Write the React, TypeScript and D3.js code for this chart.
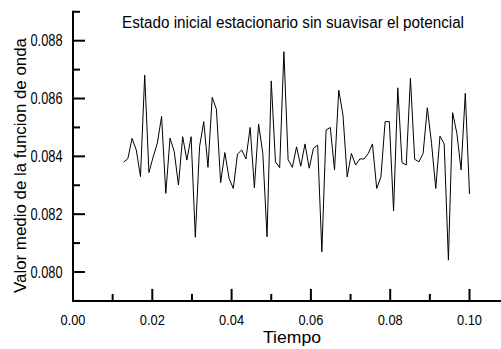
import React from "react";
import * as d3 from "d3";

// Time grid: sample index k (12..94), time = k * 0.1 / 94
const startIndex = 12;
const timeStep = 0.1 / 94;

const meanValues: number[] = [
  0.08380, 0.08392, 0.08462, 0.08422, 0.08330, 0.08681, 0.08344, 0.08398, 0.08446, 0.08538,
  0.08272, 0.08463, 0.08417, 0.08301, 0.08468, 0.08387, 0.08468, 0.08120, 0.08433, 0.08520,
  0.08362, 0.08604, 0.08563, 0.08309, 0.08413, 0.08324, 0.08289, 0.08408, 0.08422, 0.08391,
  0.08500, 0.08291, 0.08512, 0.08410, 0.08122, 0.08661, 0.08381, 0.08361, 0.08762, 0.08389,
  0.08362, 0.08433, 0.08366, 0.08443, 0.08359, 0.08428, 0.08439, 0.08070, 0.08491, 0.08500,
  0.08353, 0.08629, 0.08543, 0.08329, 0.08410, 0.08370, 0.08391, 0.08391, 0.08410, 0.08443,
  0.08289, 0.08329, 0.08520, 0.08520, 0.08211, 0.08637, 0.08378, 0.08370, 0.08670, 0.08390,
  0.08381, 0.08410, 0.08568, 0.08445, 0.08289, 0.08470, 0.08443, 0.08041, 0.08551, 0.08480,
  0.08353, 0.08618, 0.08270,
];

const xMajorTicks = [0.0, 0.02, 0.04, 0.06, 0.08, 0.1];
const xMinorTicks = [0.01, 0.03, 0.05, 0.07, 0.09];
const yMajorTicks = [0.08, 0.082, 0.084, 0.086, 0.088];
const yMinorTicks = [0.079, 0.081, 0.083, 0.085, 0.087, 0.089];

const titleText = "Estado inicial estacionario sin suavisar el potencial";
const xTitle = "Tiempo";
const yTitle = "Valor medio de la funcion de onda";

const W = 501;
const H = 349;
const FONT = "'Liberation Sans', Arial, sans-serif";

export default function App() {
  const x = d3.scaleLinear().domain([0, 0.1]).range([73, 469.5]);
  const y = d3.scaleLinear().domain([0.08, 0.088]).range([272, 40.7]);
  const axisLeft = x(0);
  const axisBottom = y(0.079);
  const axisTop = y(0.089);

  const points: [number, number][] = meanValues.map((v, i) => [
    (startIndex + i) * timeStep,
    v,
  ]);
  const line = d3
    .line<[number, number]>()
    .x((d) => x(d[0]))
    .y((d) => y(d[1]));

  return (
    <svg
      width={W}
      height={H}
      style={{ position: "absolute", left: 0, top: 0, background: "#fff" }}
      fontFamily={FONT}
    >
      <rect x={0} y={0} width={W} height={H} fill="#fff" />
      <text x={122} y={27.5} fontSize={16} textLength={342} lengthAdjust="spacingAndGlyphs" fill="#000">
        {titleText}
      </text>

      {/* data line */}
      <path d={line(points) || ""} fill="none" stroke="#000" strokeWidth={1} />

      {/* axes lines */}
      <line x1={axisLeft} x2={axisLeft} y1={axisTop - 1} y2={axisBottom + 1} stroke="#000" strokeWidth={2} />
      <line x1={axisLeft - 1} x2={W} y1={axisBottom} y2={axisBottom} stroke="#000" strokeWidth={2} />

      {/* y ticks */}
      {yMajorTicks.map((t) => (
        <g key={"ym" + t}>
          <line x1={axisLeft} x2={axisLeft + 12} y1={y(t)} y2={y(t)} stroke="#000" strokeWidth={2} />
          <text
            x={62.5}
            y={y(t)}
            dy="0.36em"
            textAnchor="end"
            fontSize={16}
            textLength={32}
            lengthAdjust="spacingAndGlyphs"
            fill="#000"
          >
            {t.toFixed(3)}
          </text>
        </g>
      ))}
      {yMinorTicks.map((t) => (
        <line key={"yn" + t} x1={axisLeft} x2={axisLeft + 7} y1={y(t)} y2={y(t)} stroke="#000" strokeWidth={2} />
      ))}

      {/* x ticks */}
      {xMajorTicks.map((t) => (
        <g key={"xm" + t}>
          <line x1={x(t)} x2={x(t)} y1={axisBottom} y2={axisBottom - 12} stroke="#000" strokeWidth={2} />
          <text
            x={x(t)}
            y={325}
            textAnchor="middle"
            fontSize={15.5}
            textLength={25}
            lengthAdjust="spacingAndGlyphs"
            fill="#000"
          >
            {t.toFixed(2)}
          </text>
        </g>
      ))}
      {xMinorTicks.map((t) => (
        <line key={"xn" + t} x1={x(t)} x2={x(t)} y1={axisBottom} y2={axisBottom - 7} stroke="#000" strokeWidth={2} />
      ))}

      {/* axis titles */}
      <text x={292} y={342.5} textAnchor="middle" fontSize={17} textLength={58} lengthAdjust="spacingAndGlyphs" fill="#000">
        {xTitle}
      </text>
      <text
        transform="translate(26,165.5) rotate(-90)"
        textAnchor="middle"
        fontSize={17}
        textLength={255}
        lengthAdjust="spacingAndGlyphs"
        fill="#000"
      >
        {yTitle}
      </text>
    </svg>
  );
}
